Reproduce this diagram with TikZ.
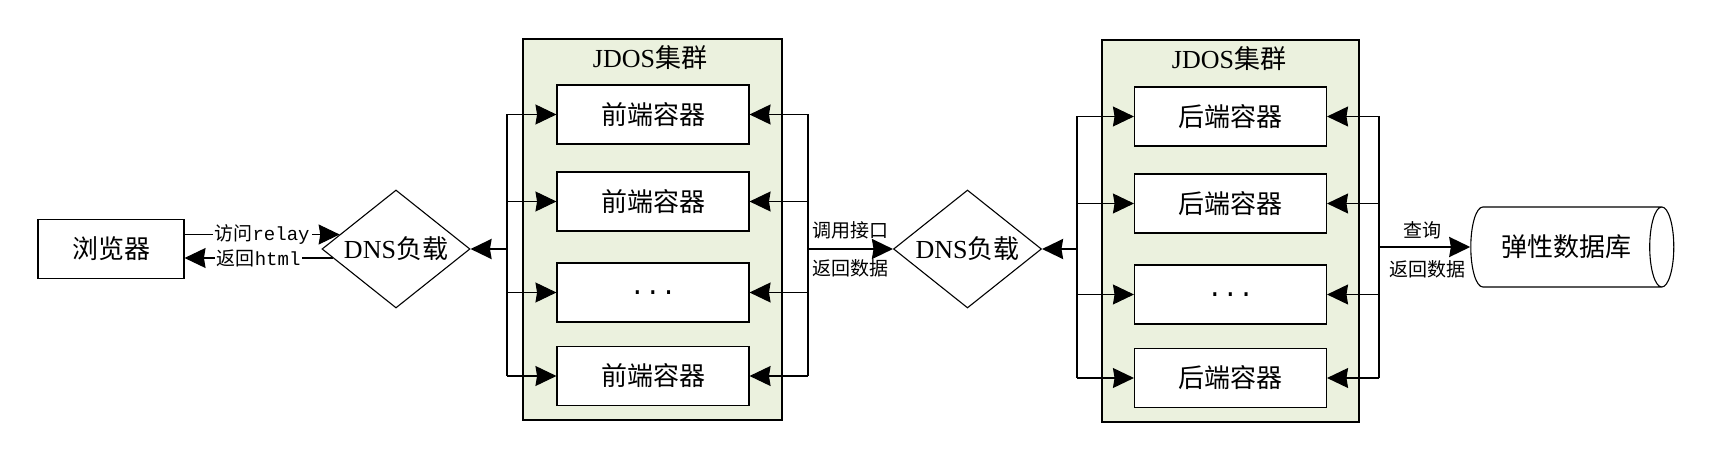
\documentclass[tikz,border=0pt]{standalone}
\usepackage{fontspec}
\setmainfont{Liberation Serif}
\newfontfamily\cjk{Noto Sans CJK SC}
\newfontfamily\mono{Liberation Mono}
\usetikzlibrary{shapes.geometric,arrows.meta}
\definecolor{clfill}{HTML}{EBF1DE}
\begin{document}
\begin{tikzpicture}[x=0.5pt,y=-0.5pt,
  big/.style={font=\fontsize{13}{15}\selectfont\cjk},
  small/.style={font=\fontsize{9.5}{11}\selectfont\cjk},
  plainbox/.style={draw, line width=0.55pt, fill=white, inner sep=0pt, big},
  cbox/.style={plainbox, minimum width=96pt, minimum height=29.5pt},
  dns/.style={diamond, draw, line width=0.55pt, fill=white, aspect=1.25, inner sep=0pt,
              minimum width=74pt, minimum height=59pt, big},
  cluster/.style={draw, line width=1pt, fill=clfill, inner sep=0pt},
  lab/.style={small, inner sep=1pt},
  tip/.style={-{Stealth[length=10.5pt,width=10pt,inset=0.8pt]}},
  thinarr/.style={tip, line width=0.55pt},
  thickarr/.style={tip, line width=1.1pt},
  busline/.style={line width=0.55pt}
]
\useasboundingbox (0,0) rectangle (1709,460);

% clusters
\node[cluster, minimum width=129.5pt, minimum height=190.5pt] (cl1) at (652.5,229.5) {};
\node[cluster, minimum width=128.5pt, minimum height=191pt] (cl2) at (1230.5,231) {};
\node[big, inner sep=0pt] (t1) at (650,58) {{\rmfamily JDOS}集群};
\node[big, inner sep=0pt] (t2) at (1229,59) {{\rmfamily JDOS}集群};

% front containers
\node[cbox] (f1) at (653,114.5) {前端容器};
\node[cbox] (f2) at (653,201.5) {前端容器};
\node[cbox] (f3) at (653,292.5) {{\mono ...}};
\node[cbox] (f4) at (653,376) {前端容器};

% back containers
\node[cbox] (b1) at (1230.5,116.5) {后端容器};
\node[cbox] (b2) at (1230.5,203.5) {后端容器};
\node[cbox] (b3) at (1230.5,294.5) {{\mono ...}};
\node[cbox] (b4) at (1230.5,378) {后端容器};

% other nodes
\node[plainbox, minimum width=73pt, minimum height=29.5pt] (browser) at (111,249) {浏览器};
\node[dns] (d1) at (396,249) {{\rmfamily DNS}负载};
\node[dns] (d2) at (967.5,249) {{\rmfamily DNS}负载};
\node[cylinder, draw, line width=0.55pt, fill=white, aspect=1, inner sep=0pt,
      minimum height=101.5pt, minimum width=40pt, big] (db) at (1566,247) {弹性数据库};

% bus coordinates
\coordinate (lb1) at (507,249);
\coordinate (rb1) at (808,249);
\coordinate (lb2) at (1077,249);
\coordinate (rb2) at (1379,249);

% browser <-> dns
\draw[thinarr] ([yshift=7.25pt]browser.east) -- node[lab, fill=white] {访问{\mono relay}} ([xshift=9.1pt,yshift=7.25pt]d1.west);
\draw[thinarr] ([xshift=5.65pt,yshift=-4.5pt]d1.west) -- node[lab, fill=white] {返回{\mono html}} ([yshift=-4.5pt]browser.east);

% buses
\draw[busline] (f1.west -| lb1) -- (f4.west -| lb1);
\draw[busline] (f1.east -| rb1) -- (f4.east -| rb1);
\draw[busline] (b1.west -| lb2) -- (b4.west -| lb2);
\draw[busline] (b1.east -| rb2) -- (b4.east -| rb2);
\foreach \i in {1,...,4} {
  \draw[thinarr] (f\i.west -| lb1) -- (f\i.west);
  \draw[thinarr] (f\i.east -| rb1) -- (f\i.east);
  \draw[thinarr] (b\i.west -| lb2) -- (b\i.west);
  \draw[thinarr] (b\i.east -| rb2) -- (b\i.east);
}

% thick connectors
\draw[thickarr] (lb1) -- (d1.east);
\draw[thickarr] (rb1) -- (d2.west);
\draw[thickarr] (lb2) -- (d2.east);
\draw[thickarr] (db.west -| rb2) -- (db.west);

% labels
\node[lab] (l1) at (850,230) {调用接口};
\node[lab] (l2) at (850,268) {返回数据};
\node[lab] (l3) at (1422,230) {查询};
\node[lab] (l4) at (1427,269) {返回数据};
\end{tikzpicture}
\end{document}
